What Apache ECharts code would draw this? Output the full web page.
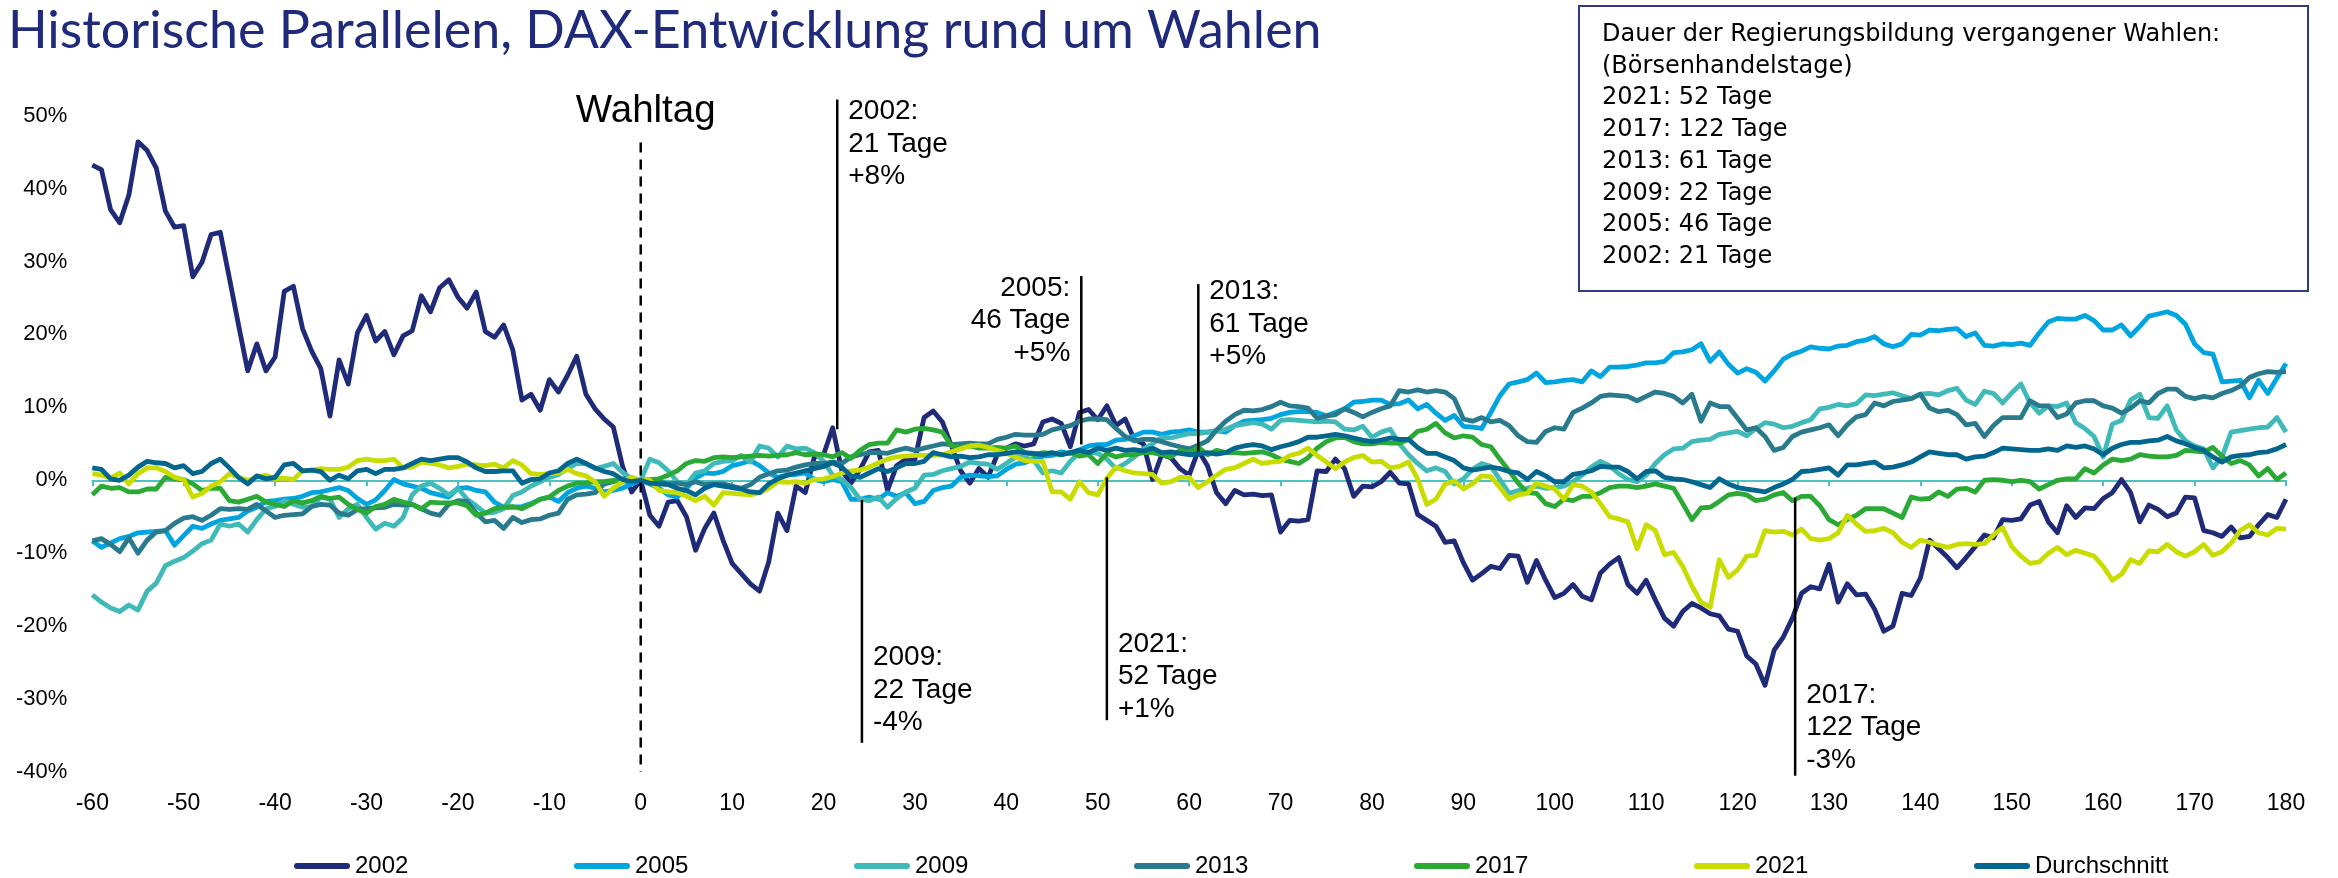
<!DOCTYPE html>
<html><head><meta charset="utf-8">
<script src="https://cdn.jsdelivr.net/npm/echarts@6/dist/echarts.min.js"></script>
<style>html,body{margin:0;padding:0;background:#fff}#c{width:2338px;height:878px}</style>
</head><body><div id="c"></div>
<script>
// ---- data: DAX performance (%) relative to election day, trading days -60 .. 180 ----
const firstDay = -60, lastDay = 180;
const xTicks = {min: -60, max: 180, interval: 10};
const yTicks = {min: -40, max: 50, interval: 10};

const v2002 = [
43.2,42.6,37.1,35.3,39.1,46.4,45.2,42.8,36.9,34.7,
34.9,27.9,29.9,33.7,34.0,27.7,21.3,15.0,18.7,15.0,
16.9,25.9,26.6,20.8,17.7,15.3,8.8,16.5,13.2,20.2,
22.6,19.1,20.4,17.2,19.8,20.5,25.3,23.1,26.4,27.5,
25.1,23.6,25.8,20.4,19.6,21.3,17.9,11.0,11.8,9.6,
13.8,12.1,14.4,17.0,11.8,9.8,8.4,7.3,2.0,-1.6,
0,
-4.8,-6.3,-3.0,-2.8,-5.0,-9.6,-6.6,-4.5,-8.2,-11.4,
-12.8,-14.2,-15.2,-11.2,-4.5,-6.9,-0.8,-1.7,3.2,3.5,
7.2,1.3,-0.4,1.5,3.9,4.1,-1.4,2.0,2.9,2.9,
8.6,9.5,8.0,4.7,1.3,-0.4,1.6,0.4,3.5,4.4,
5.0,4.7,5.0,8.0,8.4,7.8,4.6,9.3,9.7,8.3,
10.2,7.5,8.4,5.6,5.0,0.1,3.5,3.1,1.6,0.7,
4.1,2.0,-1.7,-3.2,-1.4,-2.0,-1.9,-2.1,-2.0,-7.1,
-5.5,-5.6,-5.4,1.3,1.2,2.9,1.6,-2.2,-0.8,-0.9,
-0.2,1.1,-0.4,-0.5,-4.7,-5.5,-6.3,-8.5,-8.3,-11.3,
-13.7,-12.8,-11.8,-12.1,-10.3,-10.4,-14.0,-11.0,-13.7,-16.1,
-15.5,-14.3,-15.9,-16.4,-12.7,-11.5,-10.6,-14.3,-15.5,-13.7,
-16.4,-18.9,-20.0,-18.0,-16.9,-17.5,-18.3,-18.6,-20.4,-20.7,
-24.1,-25.2,-28.1,-23.3,-21.5,-18.9,-15.5,-14.6,-14.9,-11.5,
-16.7,-14.2,-15.7,-15.6,-17.7,-20.7,-20.0,-15.5,-15.8,-13.4,
-8.2,-9.4,-10.6,-12.0,-10.6,-9.1,-7.5,-7.9,-5.4,-5.5,
-5.3,-3.4,-2.9,-5.7,-7.2,-3.5,-5.1,-3.8,-3.9,-2.5,
-1.7,0.1,-1.7,-5.7,-3.4,-4.0,-5.0,-4.5,-2.3,-2.4,
-6.9,-7.2,-7.7,-6.4,-7.9,-7.7,-6.1,-4.7,-5.1,-2.6];

const v2005 = [
-8.3,-9.2,-8.6,-8.0,-7.7,-7.2,-7.1,-7.0,-6.9,-8.9,
-7.6,-6.3,-6.6,-6.0,-5.5,-5.3,-5.1,-4.2,-3.7,-2.9,
-2.8,-2.6,-2.5,-2.2,-1.7,-1.6,-1.3,-1.0,-1.4,-2.5,
-3.3,-2.7,-1.4,0.1,-0.5,-0.8,-1.1,-1.7,-2.0,-2.3,
-1.1,-1.0,-1.4,-1.6,-3.0,-3.7,-3.7,-3.6,-3.2,-2.6,
-2.3,-2.9,-1.7,-1.1,-0.8,-1.1,-1.6,-1.4,-1.1,-0.5,
0,
-0.5,-1.1,-2.0,-2.3,-1.1,0.3,1.0,0.9,1.2,2.0,
2.3,2.7,2.0,1.0,0.4,0.7,0.8,1.0,0.1,-0.2,
0.1,-0.2,-2.6,-2.6,-2.3,-2.6,-1.7,-2.2,-1.7,-3.2,
-2.9,-1.4,-1.0,-0.8,0.4,0.7,0.6,0.5,0.6,1.5,
2.2,2.4,2.9,3.3,3.4,3.9,3.7,4.2,4.7,4.9,
4.9,5.5,5.6,6.1,6.6,6.6,6.3,6.6,6.7,6.9,
6.6,6.6,6.8,6.6,7.5,8.1,8.2,8.3,8.5,9.0,
9.3,9.4,9.4,9.3,8.8,9.3,9.8,10.7,10.8,11.0,
11.0,10.4,10.5,11.0,9.8,10.4,9.2,8.2,8.9,7.4,
7.3,7.1,9.3,11.6,13.2,13.5,13.8,14.7,13.4,13.5,
13.7,13.8,13.5,15.0,14.2,15.5,15.5,15.6,15.8,16.1,
16.1,16.3,17.5,17.6,17.9,18.7,16.3,17.6,15.9,14.7,
15.3,14.8,13.6,15.0,16.6,17.3,17.7,18.3,18.1,18.0,
18.4,18.5,19.0,19.2,19.7,18.7,18.3,18.7,20.0,19.9,
20.6,20.5,20.7,20.8,19.7,20.2,18.5,18.4,18.7,18.6,
18.8,18.5,20.2,21.7,22.2,22.1,22.1,22.6,21.9,20.6,
20.6,21.3,19.8,21.1,22.5,22.8,23.1,22.6,21.4,18.7,
17.5,17.3,13.5,13.6,13.7,11.3,13.7,11.9,14.0,16.0];

const v2009 = [
-15.7,-16.7,-17.5,-18.0,-17.1,-17.8,-15.2,-14.1,-11.7,-11.1,
-10.6,-9.7,-8.7,-8.2,-6.0,-6.3,-6.0,-7.1,-5.4,-3.9,
-3.6,-2.8,-3.3,-3.7,-3.6,-2.3,-2.6,-5.1,-3.9,-3.3,
-5.1,-6.7,-5.9,-6.3,-5.1,-2.0,-0.8,-0.4,-1.1,-2.0,
-1.1,-2.6,-3.5,-4.5,-4.4,-3.9,-2.1,-1.6,-0.8,-0.2,
0.4,0.8,1.6,2.3,2.3,1.6,1.9,2.3,1.1,0.2,
0,
2.9,2.4,1.3,-0.2,-0.6,1.0,1.3,2.3,2.6,2.7,
3.4,2.5,4.7,4.4,3.2,4.7,4.3,4.4,3.8,2.6,
0.7,0.1,-1.0,-2.6,-2.8,-2.3,-3.7,-2.5,-1.6,-1.1,
0.7,0.8,1.3,1.6,1.9,2.5,2.3,2.2,1.5,2.3,
3.2,3.1,2.7,1.0,1.3,1.0,2.6,3.8,3.9,3.7,
2.9,1.6,2.3,3.2,4.3,5.0,5.9,5.8,6.1,6.4,
6.4,6.6,6.7,7.0,7.5,7.7,7.9,7.7,7.0,8.2,
8.3,8.2,8.1,8.0,8.1,8.0,7.0,6.9,7.4,5.9,
6.6,7.0,5.0,3.5,2.3,1.3,1.7,1.2,-0.5,0.2,
1.5,2.3,1.9,0.1,-1.8,-1.4,-1.1,-0.8,-1.1,-1.0,
-0.8,-0.2,0.7,1.8,2.6,2.0,0.9,0.1,-0.2,0.7,
2.3,3.5,4.3,4.4,5.3,5.5,5.6,6.3,6.5,6.7,
6.1,7.1,7.9,7.7,7.2,7.4,7.9,8.3,9.8,10.0,
10.4,10.2,10.5,11.7,11.6,11.8,12.0,11.6,11.2,11.8,
11.9,11.7,12.3,12.6,11.0,10.4,12.2,11.9,10.6,12.0,
13.2,10.6,9.2,10.2,10.1,10.6,7.9,7.1,6.0,3.2,
7.7,8.2,11.0,11.8,8.6,8.5,10.2,6.9,5.4,4.7,
4.3,1.7,3.2,6.6,6.8,7.0,7.2,7.3,8.6,6.6];

const v2013 = [
-8.3,-8.0,-8.8,-9.8,-7.9,-10.0,-8.2,-7.1,-6.9,-5.9,
-5.2,-5.0,-5.5,-4.8,-3.9,-4.0,-3.9,-4.0,-3.3,-4.2,
-5.1,-4.8,-4.7,-4.6,-3.6,-3.3,-3.4,-4.5,-4.8,-4.0,
-3.9,-3.8,-3.7,-3.3,-3.4,-3.3,-3.9,-4.5,-4.8,-3.3,
-2.8,-2.9,-4.5,-5.7,-5.5,-6.6,-5.1,-5.8,-5.4,-5.3,
-4.8,-4.5,-2.6,-2.0,-1.9,-1.7,-0.5,-0.2,0.2,0.1,
0,
-0.2,-0.2,-0.5,-0.4,-0.6,-0.2,-0.6,-0.5,-0.5,-0.8,
-1.1,-0.6,0.4,0.9,1.3,1.4,1.8,2.1,2.3,2.3,
2.5,2.3,3.2,3.5,3.8,3.8,3.7,4.1,4.4,4.1,
4.4,4.7,5.0,4.9,5.0,5.1,5.0,5.0,5.6,5.9,
6.3,6.2,6.2,6.3,6.9,7.2,7.5,8.1,8.4,8.4,
8.3,7.1,6.0,5.4,5.6,5.6,5.3,4.9,4.6,4.3,
4.8,5.4,6.9,8.1,9.0,9.6,9.5,9.7,10.1,10.7,
10.2,10.1,9.9,8.5,8.8,9.0,9.8,9.3,8.7,9.3,
9.8,10.2,12.3,12.1,12.4,12.1,12.3,12.1,11.2,8.4,
8.1,8.6,8.0,8.2,7.5,6.1,5.3,5.2,6.7,7.2,
7.0,9.3,9.9,10.6,11.5,11.7,11.6,11.5,10.9,11.5,
12.1,11.9,11.5,10.6,11.8,8.1,10.6,10.1,10.1,8.5,
6.9,7.2,6.0,4.1,4.5,6.0,6.6,6.9,7.2,7.6,
6.1,7.6,8.7,9.0,10.6,10.2,10.8,11.0,11.2,11.8,
9.9,9.4,9.6,9.0,7.6,7.8,6.0,7.5,8.6,8.6,
8.6,10.9,10.2,10.2,8.6,9.1,10.6,10.9,10.9,10.2,
9.9,9.2,9.9,10.9,10.6,11.9,12.5,12.5,11.5,11.2,
11.5,11.3,11.9,12.3,12.9,14.1,14.6,14.9,14.8,14.9];

const v2017 = [
-2.0,-0.8,-1.1,-1.0,-1.6,-1.6,-1.2,-1.2,0.4,0.2,
0.1,-0.5,-1.4,-1.1,-1.1,-2.8,-3.0,-2.6,-2.2,-3.0,
-3.3,-3.6,-2.8,-3.1,-2.8,-2.2,-2.5,-2.3,-3.3,-4.0,
-4.5,-3.6,-3.3,-2.6,-3.0,-3.3,-3.9,-3.0,-3.1,-3.1,
-3.1,-3.5,-4.8,-4.5,-3.9,-3.7,-3.6,-3.9,-3.3,-2.6,
-2.3,-1.4,-0.8,-0.4,-0.4,-0.2,-0.2,0.0,-0.2,0.0,
0,
0.1,0.2,0.7,1.3,2.3,2.7,2.6,3.1,3.2,3.1,
3.2,3.3,3.4,3.3,3.4,3.5,3.8,3.5,3.6,3.5,
3.2,3.8,3.0,4.1,4.9,5.1,5.1,6.9,6.6,7.0,
7.1,6.9,6.6,4.7,4.5,4.7,4.4,4.4,4.5,4.4,
4.7,3.8,3.5,3.8,3.7,3.5,3.8,3.3,3.5,2.3,
3.7,3.2,3.5,3.5,3.8,3.8,3.5,3.2,4.1,3.8,
4.5,3.5,4.1,3.8,3.8,3.7,3.8,3.9,3.5,2.9,
2.6,2.3,3.1,4.4,5.3,5.8,5.9,5.3,5.0,5.0,
5.2,5.1,5.1,5.6,6.7,7.0,7.8,6.5,5.8,6.1,
5.9,4.9,4.6,2.9,1.3,-0.4,-1.7,-1.8,-3.2,-3.6,
-2.6,-2.8,-2.2,-2.2,-1.7,-1.0,-0.8,-0.8,-1.0,-0.8,
-0.5,-0.8,-1.1,-3.2,-5.4,-3.8,-3.7,-2.9,-2.0,-1.8,
-2.0,-2.8,-2.6,-2.0,-1.7,-2.8,-2.2,-2.2,-3.5,-5.4,
-6.1,-5.4,-4.8,-3.9,-3.9,-3.9,-4.5,-5.1,-2.3,-2.6,
-2.5,-1.6,-2.2,-1.2,-1.1,-1.6,0.0,0.1,0.0,-0.2,
0.0,-0.2,-1.2,-0.6,0.0,0.2,0.2,1.6,1.0,2.1,
2.9,2.7,2.9,3.5,3.3,3.2,3.2,3.4,4.1,4.0,
3.9,4.5,3.3,2.3,2.7,2.1,0.6,1.6,0.1,1.0];

const v2021 = [
0.9,0.7,0.3,1.0,-0.5,0.9,1.7,1.7,1.2,0.4,
0.1,-2.3,-1.8,-0.8,-0.2,0.9,0.4,0.0,0.4,0.7,
0.2,0.3,0.1,1.3,1.4,1.6,1.5,1.5,1.8,2.7,
2.9,2.7,2.7,2.9,1.7,1.8,2.5,2.3,2.1,1.7,
1.9,2.2,2.1,2.0,2.2,1.7,2.7,2.1,0.9,0.8,
0.9,1.0,1.5,0.9,0.6,-0.2,-2.2,-1.1,-0.2,0.4,
0,
0.0,-1.4,-1.6,-1.7,-2.2,-2.8,-2.2,-3.4,-1.7,-1.8,
-1.9,-2.0,-1.7,-1.1,-0.2,-0.3,-0.2,-0.4,0.1,0.2,
0.5,1.0,1.3,1.4,1.8,2.4,2.9,3.2,3.3,3.4,
3.4,3.4,3.5,3.9,4.3,4.7,4.8,4.5,4.1,3.7,
3.2,2.7,2.6,2.6,-1.6,-1.6,-2.6,-0.2,-1.7,-2.0,
0.3,1.8,1.3,1.0,0.9,0.8,-0.4,-0.2,0.4,0.4,
-1.0,-0.2,0.7,1.5,1.7,2.3,2.9,2.3,2.5,2.6,
3.4,3.7,4.4,3.4,2.5,1.6,2.5,3.1,3.4,2.5,
2.6,1.7,1.9,2.5,0.2,-3.3,-2.6,-0.5,-0.1,-1.2,
-0.5,0.6,0.5,-1.0,-2.6,-2.0,-1.8,-0.4,-0.8,-1.2,
-2.6,-0.6,-0.8,-1.6,-3.2,-5.0,-5.3,-5.7,-9.4,-6.1,
-6.9,-10.2,-9.9,-11.8,-14.5,-16.7,-17.4,-10.9,-13.3,-12.3,
-10.4,-10.3,-6.9,-7.1,-7.0,-7.5,-6.7,-8.0,-8.2,-8.0,
-7.2,-4.8,-6.0,-7.0,-6.9,-6.6,-7.2,-8.5,-9.2,-8.2,
-8.5,-8.9,-9.2,-8.8,-8.7,-8.8,-8.7,-7.5,-6.5,-9.1,
-10.4,-11.4,-11.2,-10.0,-9.2,-10.2,-9.6,-10.0,-10.4,-11.8,
-13.7,-12.9,-10.9,-11.4,-9.7,-9.8,-8.8,-9.8,-10.4,-9.8,
-8.8,-10.3,-9.8,-8.6,-6.9,-6.1,-7.2,-7.5,-6.6,-6.7];

const vAvg = [
1.7,1.5,0.2,0.0,0.7,1.8,2.6,2.4,2.3,1.7,
2.0,0.9,1.2,2.3,2.9,1.7,0.4,-0.5,0.6,0.2,
0.4,2.1,2.3,1.3,1.4,1.2,0.0,0.7,0.2,1.3,
1.5,0.9,1.5,1.5,1.7,2.3,2.9,2.7,2.9,3.1,
3.1,2.5,1.7,1.2,1.2,1.3,1.3,-0.4,0.1,0.2,
1.0,1.3,2.3,2.9,2.3,1.7,1.2,0.9,0.1,-0.2,
0,
-0.4,-0.5,-0.6,-1.1,-1.4,-2.0,-1.1,-0.6,-0.8,-1.0,
-1.2,-1.6,-1.7,-0.5,0.2,0.7,1.0,1.3,1.6,1.9,
2.4,1.8,0.6,0.4,1.0,1.6,1.2,1.7,2.3,2.3,
2.6,3.8,3.5,3.2,3.3,3.1,3.2,3.5,3.5,3.7,
3.9,3.8,3.7,3.5,3.8,3.5,3.8,4.1,3.8,4.4,
4.1,4.4,4.1,4.2,4.0,4.4,3.8,3.9,3.7,3.5,
3.6,3.8,3.6,3.8,4.4,4.7,4.9,4.7,4.2,4.6,
4.9,5.3,5.9,5.9,6.1,6.3,6.1,5.8,5.5,5.3,
5.5,5.8,5.6,5.6,4.5,3.7,3.7,3.2,2.7,1.7,
1.4,1.6,1.8,1.6,1.2,1.0,0.1,1.2,0.6,-0.2,
-0.2,0.8,1.0,1.3,1.9,1.8,1.8,1.2,0.2,1.2,
1.3,0.4,0.2,0.1,-0.2,-0.6,-1.0,0.2,-0.5,-1.0,
-1.2,-1.4,-1.6,-1.0,-0.5,0.1,1.2,1.3,1.5,1.7,
0.7,2.1,2.1,2.3,2.5,1.7,1.8,2.1,2.5,3.2,
3.9,3.7,3.5,3.5,2.9,3.2,3.3,3.8,4.4,4.3,
4.2,4.1,4.1,4.3,4.1,4.7,4.5,4.7,4.3,3.5,
4.4,4.9,5.2,5.2,5.4,5.5,6.0,5.4,5.0,4.5,
4.1,3.2,2.5,3.2,3.4,3.5,3.8,3.9,4.3,4.9];

const seriesNames = ['2002','2005','2009','2013','2017','2021','Durchschnitt'];
const seriesValues = [v2002, v2005, v2009, v2013, v2017, v2021, vAvg];
const seriesColors = ['#1F2A78','#00A5E0','#40BAB9','#2A7A8E','#2BA935','#C9DC00','#03668E'];

// annotations: day of the marker line, line extent (%), text-block top (%), text lines
const annoDays   = [21.5, 48.2, 61.0, 24.2, 51.0, 126.3];
const annoFrom   = [7.0, 4.9, 4.0, -2.7, 0.4, -2.4];
const annoTo     = [52.2, 28.0, 26.9, -36.0, -32.9, -40.5];
const annoTextTop= [52.8, 28.6, 28.1, -22.1, -20.2, -27.2];
const annoSide   = ['right','left','right','right','right','right'];
const annoTexts  = [
  ['2002:','21 Tage','+8%'],
  ['2005:','46 Tage','+5%'],
  ['2013:','61 Tage','+5%'],
  ['2009:','22 Tage','-4%'],
  ['2021:','52 Tage','+1%'],
  ['2017:','122 Tage','-3%']
];
const electionDay = 0;
const electionLineTop = 46.3;
const electionLabel = 'Wahltag';
const boxLines = [
  'Dauer der Regierungsbildung vergangener Wahlen:',
  '(Börsenhandelstage)',
  '2021: 52 Tage',
  '2017: 122 Tage',
  '2013: 61 Tage',
  '2009: 22 Tage',
  '2005: 46 Tage',
  '2002: 21 Tage'
];
const titleText = 'Historische Parallelen, DAX-Entwicklung rund um Wahlen';

// ---- chart ----
const days = [];
for (let d = firstDay; d <= lastDay; d++) days.push(d);
seriesValues.forEach((a, i) => { if (a.length !== days.length) console.warn(seriesNames[i], a.length); });

const chart = echarts.init(document.getElementById('c'), null, {renderer: 'canvas'});
const AX_FONT = "'Liberation Sans', Arial, sans-serif";

chart.setOption({
  animation: false,
  backgroundColor: '#fff',
  title: {
    text: titleText, left: 3, top: 0,
    textStyle: {fontFamily: "Lato, 'Noto Sans', sans-serif", fontSize: 52, fontWeight: 'normal', color: '#1F2A7A'}
  },
  grid: {left: 92.3, right: 52, top: 115.6, bottom: 106},
  legend: {
    data: seriesNames, left: 289, top: 849, itemGap: 0,
    itemWidth: 56, itemHeight: 6, selectedMode: false,
    icon: 'path://M3,0 L53,0 A3,3 0 0 1 53,6 L3,6 A3,3 0 0 1 3,0 Z',
    textStyle: {fontFamily: AX_FONT, fontSize: 24, color: '#000', width: 219, lineHeight: 24}
  },
  xAxis: [
    {type: 'value', min: xTicks.min, max: xTicks.max, interval: xTicks.interval, position: 'bottom',
     axisLine: {show: false, onZero: false}, axisTick: {show: false}, splitLine: {show: false},
     axisLabel: {fontFamily: AX_FONT, fontSize: 23, color: '#000', margin: 20}},
    {type: 'value', min: xTicks.min, max: xTicks.max, interval: xTicks.interval, position: 'bottom',
     axisLine: {show: true, onZero: true, lineStyle: {color: '#4CC2C2', width: 2}},
     axisTick: {show: true, length: 6, lineStyle: {color: '#4CC2C2', width: 2}},
     axisLabel: {show: false}, splitLine: {show: false}}
  ],
  yAxis: {
    type: 'value', min: yTicks.min, max: yTicks.max, interval: yTicks.interval,
    axisLine: {show: false}, axisTick: {show: false}, splitLine: {show: false},
    axisLabel: {formatter: '{value}%', fontFamily: AX_FONT, fontSize: 22, color: '#000', margin: 25}
  },
  series: seriesNames.map((n, i) => ({
    name: n, type: 'line', xAxisIndex: 0, yAxisIndex: 0,
    data: days.map((d, j) => [d, seriesValues[i][j]]),
    showSymbol: false, symbol: 'none', smooth: false,
    lineStyle: {color: seriesColors[i], width: 4.8, join: 'round'},
    itemStyle: {color: seriesColors[i]},
    z: 2 + i
  }))
});

// ---- annotations placed through the chart's own scales ----
const px = (x, y) => chart.convertToPixel({xAxisIndex: 0, yAxisIndex: 0}, [x, y]);
const ANNO_FONT = "28px 'Liberation Sans', Arial, sans-serif";
const g = [];
annoDays.forEach((d, i) => {
  const a = px(d, annoFrom[i]), b = px(d, annoTo[i]);
  g.push({type: 'line', z: 100, shape: {x1: a[0], y1: a[1], x2: b[0], y2: b[1]},
          style: {stroke: '#000', lineWidth: 2.5}});
  const t = px(d, annoTextTop[i]);
  const right = annoSide[i] === 'right';
  g.push({type: 'text', z: 100,
          style: {text: annoTexts[i].join('\n'), x: t[0] + (right ? 11 : -11), y: t[1],
                  font: ANNO_FONT, lineHeight: 32.5, fill: '#000',
                  textAlign: right ? 'left' : 'right', textVerticalAlign: 'top'}});
});
const e1 = px(electionDay, electionLineTop), e2 = px(electionDay, yTicks.min);
g.push({type: 'line', z: 100, shape: {x1: e1[0], y1: e1[1], x2: e2[0], y2: e2[1]},
        style: {stroke: '#000', lineWidth: 2.5, lineDash: [10, 7]}});
const el = px(electionDay, 50.6);
g.push({type: 'text', z: 100, style: {text: electionLabel, x: el[0] + 5, y: el[1],
        font: "38.5px 'Liberation Sans', Arial, sans-serif", fill: '#000',
        textAlign: 'center', textVerticalAlign: 'middle'}});
// info box
g.push({type: 'rect', z: 110, shape: {x: 1579, y: 6, width: 729, height: 285},
        style: {fill: '#fff', stroke: '#2E3B8C', lineWidth: 2}});
g.push({type: 'text', z: 111, style: {text: boxLines.join('\n'), x: 1602, y: 19,
        font: "24px 'DejaVu Sans', sans-serif", lineHeight: 31.7, fill: '#000',
        textAlign: 'left', textVerticalAlign: 'top'}});
chart.setOption({graphic: g});
</script></body></html>
